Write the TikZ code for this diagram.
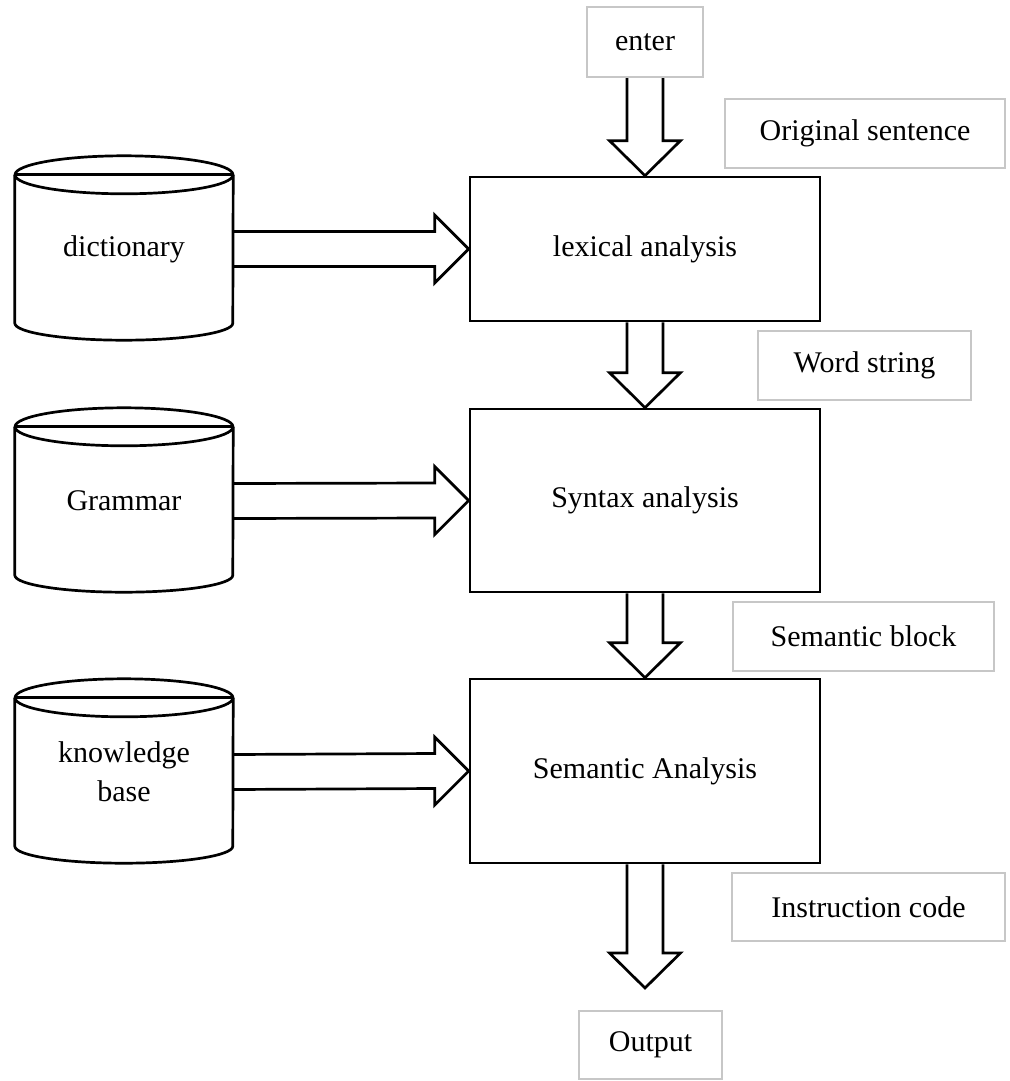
\documentclass[tikz,border=0pt]{standalone}
\usepackage{fontspec}
\setmainfont{Liberation Serif}
\usetikzlibrary{calc}

\tikzset{
  every node/.style={font=\fontsize{30}{34}\selectfont, inner sep=0pt},
  procbox/.style={draw=black, line width=2.7pt, fill=white, minimum width=350pt},
  tagbox/.style={draw=black!22, line width=2pt, fill=white},
  storebody/.style={minimum width=218pt, minimum height=148pt, align=center},
  storeline/.style={draw=black, line width=2.7pt, fill=white, line join=round},
  blockarrow/.style={draw=black, line width=2.7pt, fill=white, line join=miter}
}

% hollow block arrow pointing down: from bottom of #1 to top of #2 (tip)
\newcommand{\downarrowblk}[2]{%
  \draw[blockarrow] ($(#1)+(-18,0)$) -- ($(#2)+(-18,35)$) -- ($(#2)+(-35.5,35)$)
    -- (#2) -- ($(#2)+(35.5,35)$) -- ($(#2)+(18,35)$) -- ($(#1)+(18,0)$);}
% hollow block arrow pointing right: from #1 to tip #2
\newcommand{\rightarrowblk}[2]{%
  \draw[blockarrow] ($(#1)+(0,17.5)$) -- ($(#2)+(-34,17.5)$) -- ($(#2)+(-34,34)$)
    -- (#2) -- ($(#2)+(-34,-34)$) -- ($(#2)+(-34,-17.5)$) -- ($(#1)+(0,-17.5)$);}
% data store drawn around a named body node
\newcommand{\datastore}[1]{%
  \draw[storeline] (#1.north west) -- (#1.south west)
    arc[start angle=180, end angle=360, x radius=109pt, y radius=17pt] -- (#1.north east);
  \draw[storeline] (#1.north) ellipse[x radius=109pt, y radius=19pt];
  \draw[black, line width=2.7pt] (#1.north west) -- (#1.north east);}

\begin{document}
\begin{tikzpicture}[x=1pt, y=1pt]
  \useasboundingbox[fill=white] (0,0) rectangle (1009,-1081);

  % processing stages
  \node[procbox, minimum height=144pt] (lex) at (645,-249) {lexical analysis};
  \node[procbox, minimum height=183pt] (syn) at (645,-500.5) {Syntax analysis};
  \node[procbox, minimum height=184pt] (sem) at (645,-771) {Semantic Analysis};

  % input arrows from the data stores
  \node[storebody] (dict) at (124,-249) {};
  \node[storebody] (gram) at (124,-501) {};
  \node[storebody] (know) at (124,-772) {};
  \rightarrowblk{dict.east}{lex.west}
  \rightarrowblk{gram.east}{syn.west}
  \rightarrowblk{know.east}{sem.west}

  % data stores
  \datastore{dict}
  \node at (dict.center) {dictionary};
  \datastore{gram}
  \node at (gram.center) {Grammar};
  \datastore{know}
  \node[align=center, font=\fontsize{30}{39}\selectfont] at (know.center) {knowledge\\base};

  % input / output and data labels
  \node[tagbox, minimum width=116pt, minimum height=70pt] (enter) at (645,-42) {enter};
  \node[tagbox, minimum width=280pt, minimum height=69pt] (orig) at (865,-133.5) {Original sentence};
  \node[tagbox, minimum width=213pt, minimum height=69pt] (word) at (864.5,-365.5) {Word string};
  \node[tagbox, minimum width=261pt, minimum height=69pt] (sblock) at (863.5,-636.5) {Semantic block};
  \node[tagbox, minimum width=273pt, minimum height=68pt] (instr) at (868.5,-907) {Instruction code};
  \node[tagbox, minimum width=143pt, minimum height=68pt] (out) at (650.5,-1045) {Output};
  \coordinate (outtip) at (645,-988);

  % vertical flow
  \downarrowblk{enter.south}{lex.north}
  \downarrowblk{lex.south}{syn.north}
  \downarrowblk{syn.south}{sem.north}
  \downarrowblk{sem.south}{outtip}
\end{tikzpicture}
\end{document}
